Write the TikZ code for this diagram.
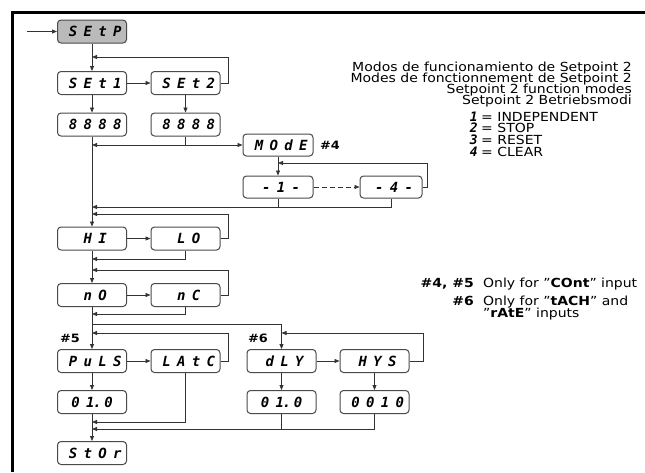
\documentclass[tikz,border=0pt]{standalone}
\usepackage{fontspec}
\setmainfont{DejaVu Sans}[FakeStretch=1.12]
\newfontfamily\segfont{DejaVu Sans Mono}[LetterSpace=45]
\newfontfamily\segchiffre{DejaVu Sans Mono}
\usetikzlibrary{arrows.meta}
\definecolor{trait}{HTML}{333333}
\definecolor{bord}{HTML}{4A4A4A}
\definecolor{fondgris}{HTML}{BABABA}
\newcommand{\seg}[1]{{\segfont\bfseries\itshape #1\kern-.45em}}
\newcommand{\segval}{{\segchiffre\bfseries\itshape 0\kern.45em1\kern-.1em.\kern.2em0}}
\tikzset{
  afficheur/.style={draw=bord, line width=1pt, rounded corners=3.5pt, fill=white,
    minimum width=69pt, minimum height=23pt, inner sep=0pt,
    font=\fontsize{14}{14}\selectfont},
  lien/.style={draw=trait, line width=0.8pt},
  fl/.style={lien, -{Triangle[length=5pt,width=4pt]}},
  renvoi/.style={font=\bfseries\fontsize{11.5}{11}\selectfont},
  texte/.style={font=\fontsize{12.5}{11}\selectfont, inner sep=0pt},
}

\begin{document}
\begin{tikzpicture}[x=1pt,y=-1pt]
    \useasboundingbox (0,0) rectangle (645,472);
    % cadre
    \draw[line width=3pt] (12,472) -- (12,12) -- (645,12);
    % afficheurs
    \node[afficheur, fill=fondgris] (setp) at (92,31.5) {\seg{SEtP}};
    \node[afficheur] (set1) at (92,83) {\seg{SEt1}};
    \node[afficheur] (set2) at (185.5,83) {\seg{SEt2}};
    \node[afficheur] (val1) at (92,124.5) {\seg{8888}};
    \node[afficheur] (val2) at (185.5,124.5) {\seg{8888}};
    \node[afficheur, minimum width=70pt, minimum height=22pt] (mode) at (278,145) {\seg{MOdE}};
    \node[afficheur, minimum width=70pt, minimum height=22pt] (m1) at (278,187) {\seg{-1-}};
    \node[afficheur, minimum width=62pt, minimum height=22pt] (m4) at (391,187) {\seg{-4-}};
    \node[afficheur] (hi) at (92,238.5) {\seg{HI}};
    \node[afficheur] (lo) at (185.5,238.5) {\seg{LO}};
    \node[afficheur] (no) at (92,295) {\seg{nO}};
    \node[afficheur] (nc) at (185.5,295) {\seg{nC}};
    \node[afficheur] (puls) at (92,361) {\seg{PuLS}};
    \node[afficheur] (latc) at (185.5,361) {\seg{LAtC}};
    \node[afficheur] (pv) at (92,402) {\segval};
    \node[afficheur] (dly) at (281.5,361) {\seg{dLY}};
    \node[afficheur] (hys) at (374.5,361) {\seg{HYS}};
    \node[afficheur] (dv) at (281.5,402) {\segval};
    \node[afficheur] (hv) at (374.5,402) {\seg{0010}};
    \node[afficheur] (stor) at (92,453) {\seg{StOr}};
    % renvois
    \node[renvoi] (n4) at (330,145) {\#4};
    \node[renvoi] (n5) at (70,338) {\#5};
    \node[renvoi] (n6) at (258,338) {\#6};
    % points de jonction
    \coordinate (entree) at (27,31.5);
    \coordinate (j1) at (92,57);
    \coordinate (j2) at (92,145);
    \coordinate (j3) at (278,163);
    \coordinate (j4) at (92,207);
    \coordinate (j5) at (92,214);
    \coordinate (j6) at (92,259);
    \coordinate (j7) at (92,270);
    \coordinate (j8) at (92,314);
    \coordinate (j9) at (92,324);
    \coordinate (j10) at (92,333);
    \coordinate (j11) at (281.5,333);
    \coordinate (j12) at (92,422);
    \coordinate (j13) at (92,429);
    % liaisons
    \draw[fl] (entree) -- (setp);
    \draw[fl] (setp) -- (set1);
    \draw[fl] (set1) -- (set2);
    \draw[fl] (set2.east) -- ++(8,0) |- (j1);
    \draw[fl] (set1) -- (val1);
    \draw[fl] (set2) -- (val2);
    \draw[fl] (val2.south) |- (j2);
    \draw[fl] (val2.south) |- (mode.west);
    \draw[fl] (mode) -- (m1);
    \draw[fl, dashed, dash pattern=on 5pt off 3pt] (m1) -- (m4);
    \draw[fl] (m4.east) -- ++(5,0) |- (j3);
    \draw[lien] (m1.south) -- (m1.south |- j4);
    \draw[fl] (m4.south) |- (j4);
    \draw[fl] (val1) -- (hi);
    \draw[fl] (hi) -- (lo);
    \draw[fl] (lo.east) -- ++(8,0) |- (j5);
    \draw[fl] (lo.south) |- (j6);
    \draw[fl] (hi) -- (no);
    \draw[fl] (no) -- (nc);
    \draw[fl] (nc.east) -- ++(8,0) |- (j7);
    \draw[fl] (nc.south) |- (j8);
    \draw[fl] (no) -- (puls);
    \draw[fl] (j9) -| (dly.north);
    \draw[fl] (puls) -- (latc);
    \draw[fl] (latc.east) -- ++(8,0) |- (j10);
    \draw[fl] (dly) -- (hys);
    \draw[fl] (hys.east) -- ++(14,0) |- (j11);
    \draw[fl] (puls) -- (pv);
    \draw[fl] (dly) -- (dv);
    \draw[fl] (hys) -- (hv);
    \draw[fl] (latc.south) |- (j12);
    \draw[lien] (dv.south) -- (dv.south |- j13);
    \draw[fl] (hv.south) |- (j13);
    \draw[fl] (pv) -- (stor);
    % titres
    \node[texte, anchor=base east] (t1) at (632,71) {Modos de funcionamiento de Setpoint 2};
    \node[texte, anchor=base east] (t2) at (632,82) {Modes de fonctionnement de Setpoint 2};
    \node[texte, anchor=base east] (t3) at (632,93) {Setpoint 2 function modes};
    \node[texte, anchor=base east] (t4) at (632,104) {Setpoint 2 Betriebsmodi};
    % legende
    \foreach \c/\t [count=\i] in {1/INDEPENDENT, 2/STOP, 3/RESET, 4/CLEAR}{
        \node[texte, anchor=base east, font=\segchiffre\bfseries\itshape\fontsize{13}{12}\selectfont] (chiffre\i) at (478,{109.3+11.7*\i}) {\c};
        \node[texte, anchor=base west] (mode\i) at (481,{109.3+11.7*\i}) {= \t};
    }
    % notes
    \node[texte, anchor=base east, font=\bfseries\fontsize{12.5}{11}\selectfont] (note45) at (474,287) {\#4, \#5};
    \node[texte, anchor=base west] (texte45) at (483,287) {Only for "\textbf{COnt}" input};
    \node[texte, anchor=base east, font=\bfseries\fontsize{12.5}{11}\selectfont] (note6) at (474,305) {\#6};
    \node[texte, anchor=base west] (texte6a) at (483,305) {Only for "\textbf{tACH}" and};
    \node[texte, anchor=base west] (texte6b) at (483,317) {"\textbf{rAtE}" inputs};
\end{tikzpicture}
\end{document}
